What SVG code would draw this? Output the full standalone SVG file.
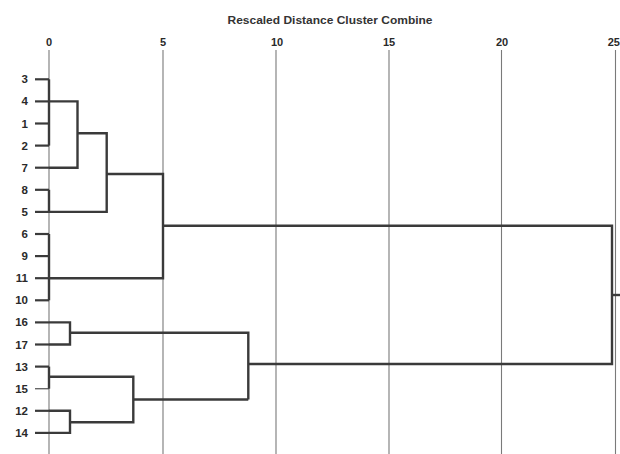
<svg xmlns="http://www.w3.org/2000/svg" width="620" height="454" viewBox="0 0 620 454">
<style>
.bg{fill:#ffffff}
.title{font-family:"Liberation Sans",Arial,sans-serif;font-size:11.5px;font-weight:bold;fill:#333;text-anchor:middle}
.tick{font-family:"Liberation Sans",Arial,sans-serif;font-size:11px;font-weight:bold;fill:#2a2a2a;text-anchor:middle}
.lbl{font-family:"Liberation Sans",Arial,sans-serif;font-size:11.5px;font-weight:bold;fill:#2a2a2a;text-anchor:end}
.grid{stroke:#7a7a7a;stroke-width:1.1;fill:none}
.stub{stroke:#3a3a3a;stroke-width:2.2;fill:none}
.link{stroke:#3a3a3a;stroke-width:2.4;fill:none;stroke-linejoin:miter}
</style>
<rect class="bg" x="0" y="0" width="620" height="454"/>
<g id="axis">
<text class="title" x="330" y="24" textLength="205" lengthAdjust="spacingAndGlyphs">Rescaled Distance Cluster Combine</text>
<text class="tick" x="49" y="46">0</text>
<text class="tick" x="163" y="46">5</text>
<text class="tick" x="277" y="46">10</text>
<text class="tick" x="389" y="46">15</text>
<text class="tick" x="502" y="46">20</text>
<text class="tick" x="620" y="46" style="text-anchor:end">25</text>
<path class="grid" d="M49 50V454M163 50V454M276 50V454M389 50V454M501.5 50V454M615.5 50V454"/>
</g>
<g id="leaf-3"><text class="lbl" x="28" y="83.3">3</text><path class="stub" d="M35 79.3H49"/></g>
<g id="leaf-4"><text class="lbl" x="28" y="105.4">4</text><path class="stub" d="M35 101.4H49"/></g>
<g id="leaf-1"><text class="lbl" x="28" y="127.5">1</text><path class="stub" d="M35 123.5H49"/></g>
<g id="leaf-2"><text class="lbl" x="28" y="149.6">2</text><path class="stub" d="M35 145.6H49"/></g>
<g id="leaf-7"><text class="lbl" x="28" y="171.7">7</text><path class="stub" d="M35 167.7H49"/></g>
<g id="leaf-8"><text class="lbl" x="28" y="193.8">8</text><path class="stub" d="M35 189.8H49"/></g>
<g id="leaf-5"><text class="lbl" x="28" y="215.9">5</text><path class="stub" d="M35 211.9H49"/></g>
<g id="leaf-6"><text class="lbl" x="28" y="238">6</text><path class="stub" d="M35 234H49"/></g>
<g id="leaf-9"><text class="lbl" x="28" y="260.1">9</text><path class="stub" d="M35 256.1H49"/></g>
<g id="leaf-11"><text class="lbl" x="28" y="282.2">11</text><path class="stub" d="M35 278.2H49"/></g>
<g id="leaf-10"><text class="lbl" x="28" y="304.3">10</text><path class="stub" d="M35 300.3H49"/></g>
<g id="leaf-16"><text class="lbl" x="28" y="326.4">16</text><path class="stub" d="M35 322.4H49"/></g>
<g id="leaf-17"><text class="lbl" x="28" y="348.5">17</text><path class="stub" d="M35 344.5H49"/></g>
<g id="leaf-13"><text class="lbl" x="28" y="370.6">13</text><path class="stub" d="M35 366.6H49"/></g>
<g id="leaf-15"><text class="lbl" x="28" y="392.7">15</text><path class="stub" d="M35 388.7H49" style="stroke-width:1.4;stroke:#666"/></g>
<g id="leaf-12"><text class="lbl" x="28" y="414.8">12</text><path class="stub" d="M35 410.8H49"/></g>
<g id="leaf-14"><text class="lbl" x="28" y="436.9">14</text><path class="stub" d="M35 432.9H49"/></g>
<g id="connectors">
<path class="link" d="M49 79.3V145.6"/>
<path class="link" d="M49 189.8V211.9"/>
<path class="link" d="M49 234V300.3"/>
<path class="link" d="M49 366.6V388.7"/>
<path class="link" d="M49 101.4H77.5V167.7H49"/>
<path class="link" d="M77.5 133.3H106.7V211.9H49"/>
<path class="link" d="M106.7 174H163V278.2H49"/>
<path class="link" d="M163 225.7H612V364H248.3"/>
<path class="link" d="M612 295H620"/>
<path class="link" d="M49 322.4H70V344.5H49"/>
<path class="link" d="M70 332.7H248.3V399.5"/>
<path class="link" d="M49 410.8H70V432.9H49"/>
<path class="link" d="M49 376.7H133.3V422.3H70"/>
<path class="link" d="M133.3 399.5H248.3"/>
</g>
</svg>
